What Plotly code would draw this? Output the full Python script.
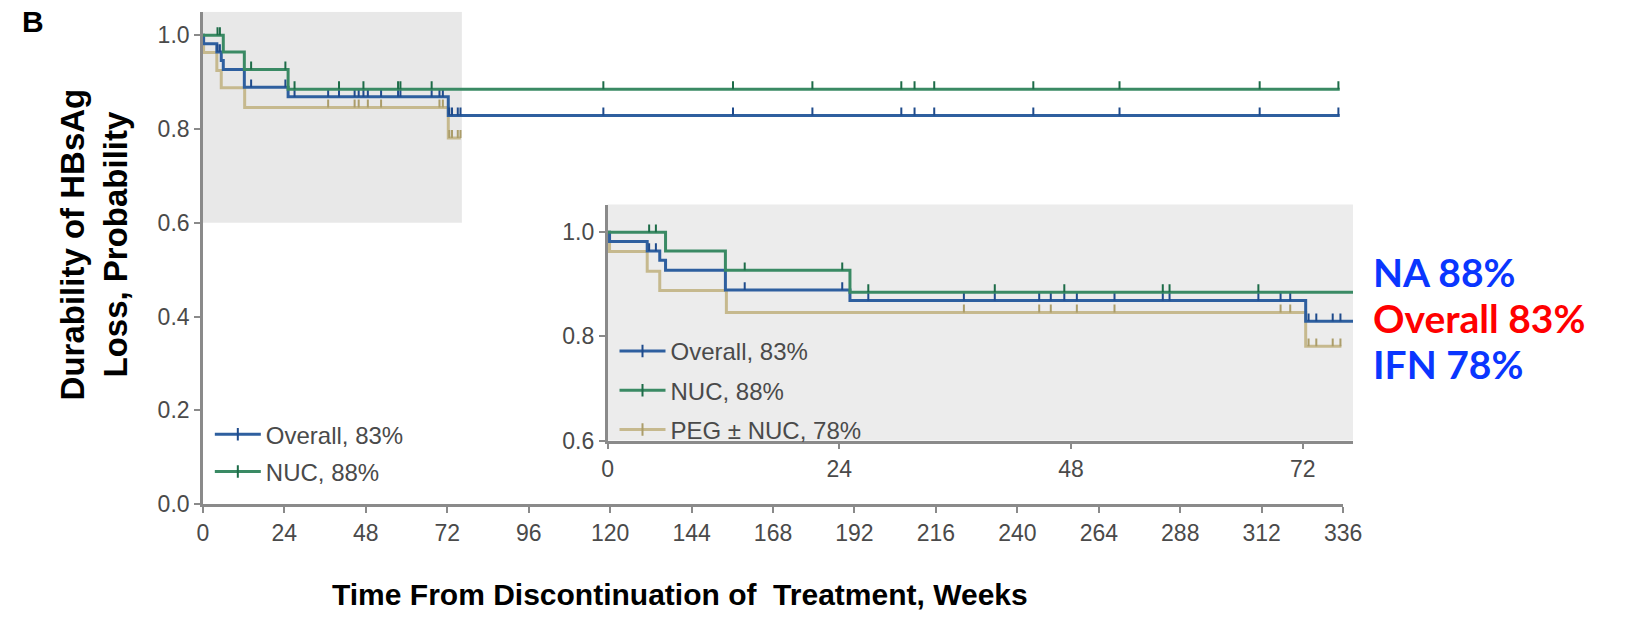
import numpy as np
import plotly.graph_objects as go

# ---------------- data ----------------
series_names = ["Overall, 83%", "NUC, 88%", "PEG ± NUC, 78%"]

overall_event_weeks = [0, 0.2, 4.1, 5.4, 6.0, 12.2, 25.1, 72.3]
overall_survival = [1.0, 0.982, 0.964, 0.946, 0.927, 0.889, 0.869, 0.829]
overall_last_week = 335.0
overall_censor_weeks = [4.3, 5.0, 14.2, 24.3, 27.0, 36.9, 40.1, 44.7, 45.9, 47.3, 48.6,
                        52.5, 57.5, 58.2, 67.4, 69.7, 70.7, 72.6, 73.4, 75.1, 75.9,
                        118.0, 156.2, 179.6, 205.8, 209.7, 215.5, 244.7, 270.1, 311.4, 334.6]

nuc_event_weeks = [0, 6.0, 12.2, 25.1]
nuc_survival = [1.0, 0.964, 0.927, 0.885]
nuc_last_week = 335.0
nuc_censor_weeks = [4.3, 5.0, 14.2, 24.3, 27.0, 40.1, 47.3, 57.5, 58.2, 67.4,
                    118.0, 156.2, 179.6, 205.8, 209.7, 215.5, 244.7, 270.1, 311.4, 334.6]

peg_event_weeks = [0, 0.2, 4.1, 5.4, 12.3, 72.3]
peg_survival = [1.0, 0.963, 0.925, 0.888, 0.846, 0.781]
peg_last_week = 76.0
peg_censor_weeks = [36.9, 44.7, 45.9, 48.6, 52.5, 69.7, 70.7, 72.6, 73.4, 75.1, 75.9]

main_x_ticks = [0, 24, 48, 72, 96, 120, 144, 168, 192, 216, 240, 264, 288, 312, 336]
main_y_ticks = [0.0, 0.2, 0.4, 0.6, 0.8, 1.0]
inset_x_ticks = [0, 24, 48, 72]
inset_y_ticks = [0.6, 0.8, 1.0]

right_labels = ["NA 88%", "Overall 83%", "IFN 78%"]
right_label_colors = ["#0a36ff", "#ff0000", "#0a36ff"]

# ---------------- styling ----------------
W, H = 1628, 621
line_colors = ["#2e5f9f", "#3a8a64", "#c6b98e"]
tick_colors = ["#1f4b8c", "#1d6c48", "#ab9d6a"]
axis_col = "#8a8a8a"
txt_col = "#4a4a4a"
FONT = "Liberation Sans, Arial, sans-serif"

series = [
    (overall_event_weeks, overall_survival, overall_last_week, overall_censor_weeks),
    (nuc_event_weeks, nuc_survival, nuc_last_week, nuc_censor_weeks),
    (peg_event_weeks, peg_survival, peg_last_week, peg_censor_weeks),
]

def px_x(p):
    return p / W

def px_y(p):
    return (H - p) / H

# main axes placement
main_xdom = [px_x(200), px_x(1358)]
main_ydom = [px_y(515), px_y(12)]
main_xrange = [0, 336]
main_yrange = [0, 1.05]
# inset axes placement
ins_xdom = [px_x(611), px_x(1368)]
ins_ydom = [px_y(450), px_y(209)]
ins_xrange = [0, 77.2]
ins_yrange = [0.6, 1.053]

fig = go.Figure()

def add_km(xa, ya, tick_len_units, width):
    order = [2, 0, 1]
    for i in order:
        ev, sv, last, cens = series[i]
        xs = list(ev) + [last]
        ys = list(sv) + [sv[-1]]
        fig.add_trace(go.Scatter(x=xs, y=ys, mode="lines", line=dict(color=line_colors[i], width=width, shape="hv"),
                                 xaxis=xa, yaxis=ya, showlegend=False, hoverinfo="skip"))
        ev_arr = np.array(ev)
        sv_arr = np.array(sv)
        cx, cy = [], []
        for c in cens:
            idx = np.searchsorted(ev_arr, c, side="right") - 1
            s = sv_arr[idx]
            cx += [c, c, None]
            cy += [s, s + tick_len_units, None]
        fig.add_trace(go.Scatter(x=cx, y=cy, mode="lines", line=dict(color=tick_colors[i], width=2),
                                 xaxis=xa, yaxis=ya, showlegend=False, hoverinfo="skip"))

add_km("x", "y", 8 / 479.0, 3)
add_km("x2", "y2", 8 / 532.0, 3)

# legend entries
for i in range(2):
    fig.add_trace(go.Scatter(x=[None], y=[None], mode="lines+markers", name=series_names[i],
                             line=dict(color=line_colors[i], width=3),
                             marker=dict(symbol="line-ns", size=9, line=dict(color=tick_colors[i], width=2)),
                             legend="legend", legendgroup="m%d" % i, xaxis="x", yaxis="y"))
for i in range(3):
    fig.add_trace(go.Scatter(x=[None], y=[None], mode="lines+markers", name=series_names[i],
                             line=dict(color=line_colors[i], width=3),
                             marker=dict(symbol="line-ns", size=9, line=dict(color=tick_colors[i], width=2)),
                             legend="legend2", legendgroup="i%d" % i, xaxis="x2", yaxis="y2"))

axis_common = dict(showline=True, linecolor=axis_col, linewidth=2.5, ticks="outside", ticklen=6,
                   tickwidth=2, tickcolor=axis_col, showgrid=False, zeroline=False,
                   tickfont=dict(family=FONT, size=23, color=txt_col))

fig.update_layout(
    width=W, height=H, margin=dict(l=0, r=0, t=0, b=0),
    paper_bgcolor="white", plot_bgcolor="rgba(0,0,0,0)",
    xaxis=dict(domain=main_xdom, range=main_xrange, tickvals=main_x_ticks, anchor="y", **axis_common),
    yaxis=dict(domain=main_ydom, range=main_yrange, tickvals=main_y_ticks, tickformat=".1f", anchor="x", **axis_common),
    xaxis2=dict(domain=ins_xdom, range=ins_xrange, tickvals=inset_x_ticks, anchor="y2", **axis_common),
    yaxis2=dict(domain=ins_ydom, range=ins_yrange, tickvals=inset_y_ticks, tickformat=".1f", anchor="x2", **axis_common),
    legend=dict(x=px_x(207), y=px_y(421), xanchor="left", yanchor="top", bgcolor="rgba(0,0,0,0)",
                font=dict(family=FONT, size=24, color=txt_col), tracegroupgap=3, itemwidth=46),
    legend2=dict(x=px_x(618), y=px_y(336), xanchor="left", yanchor="top", bgcolor="rgba(0,0,0,0)",
                 font=dict(family=FONT, size=24, color=txt_col), tracegroupgap=5, itemwidth=46),
    showlegend=True,
)

# gray zoom window on main plot and inset background
fig.add_shape(type="rect", xref="x", yref="y", x0=0, x1=76.3, y0=0.6, y1=1.05,
              fillcolor="#e8e8e8", line=dict(width=0), layer="below")
fig.add_shape(type="rect", xref="x2 domain", yref="y2 domain", x0=0, x1=1, y0=0, y1=1,
              fillcolor="#ececec", line=dict(width=0), layer="below")

# texts
fig.add_annotation(text="<b>B</b>", xref="paper", yref="paper", x=px_x(27), y=px_y(22),
                   xanchor="center", yanchor="middle", showarrow=False,
                   font=dict(family=FONT, size=30, color="black"))
fig.add_annotation(text="<b>Durability of HBsAg<br>Loss, Probability</b>", xref="paper", yref="paper",
                   x=px_x(89), y=px_y(250), xanchor="center", yanchor="middle", textangle=-90,
                   showarrow=False, font=dict(family=FONT, size=33, color="black"))
fig.add_annotation(text="<b>Time From Discontinuation of  Treatment, Weeks</b>", xref="paper", yref="paper",
                   x=px_x(685), y=px_y(607), xanchor="center", yanchor="middle", showarrow=False,
                   font=dict(family=FONT, size=30, color="black"))
for lab, col, yc in zip(right_labels, right_label_colors, [278, 325, 372]):
    fig.add_annotation(text="<b>%s</b>" % lab, xref="paper", yref="paper", x=px_x(1386), y=px_y(yc),
                       xanchor="left", yanchor="middle", showarrow=False,
                       font=dict(family="Lato, sans-serif", size=39, color=col))

fig.write_html("out.html")
